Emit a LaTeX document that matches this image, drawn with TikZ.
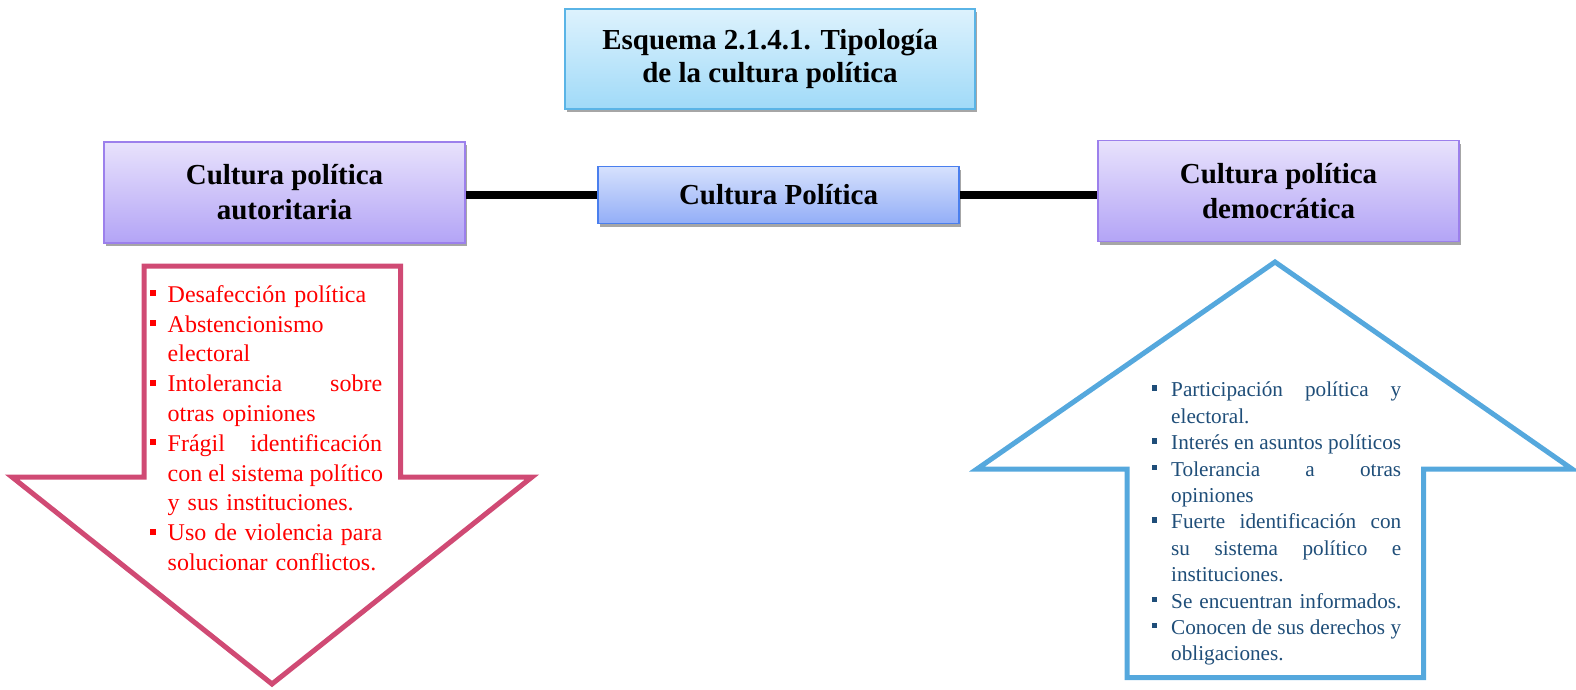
\documentclass[tikz,border=0pt]{standalone}
\usepackage{fontspec}
\setmainfont{Liberation Serif}
\usetikzlibrary{shadows}
\definecolor{titletop}{HTML}{DDF2FD}
\definecolor{titlebot}{HTML}{A0DAF8}
\definecolor{titleborder}{HTML}{5AB4E6}
\definecolor{purptop}{HTML}{E8E2FC}
\definecolor{purpbot}{HTML}{B3A4F6}
\definecolor{purpborder}{HTML}{9C80EC}
\definecolor{ctop}{HTML}{D6E1FD}
\definecolor{cbot}{HTML}{93AEF7}
\definecolor{cborder}{HTML}{4A7FEE}
\definecolor{downcol}{HTML}{D04A74}
\definecolor{upcol}{HTML}{55A8DD}
\definecolor{textblue}{HTML}{1F4E79}
\newcommand\bulL{\makebox[17.5pt][l]{\raisebox{6pt}{\rule{6pt}{6pt}}}}
\newcommand\indL{\hspace*{17.5pt}}
\newcommand\jL[1]{\hbox to 214.5pt{\spaceskip=0.25em plus 1fil\relax #1}}
\newcommand\bulR{\makebox[19.3pt][l]{\raisebox{6pt}{\rule{5.5pt}{5.5pt}}}}
\newcommand\indR{\hspace*{19.3pt}}
\newcommand\jR[1]{\hbox to 230pt{\spaceskip=0.25em plus 1fil minus 0.05em\relax #1}}
\tikzset{
  boxbase/.style={draw, line width=1.5pt, inner sep=0pt, align=center,
    drop shadow={shadow xshift=2pt, shadow yshift=-3pt, fill=black, opacity=0.35}},
  titlebox/.style={boxbase, draw=titleborder, top color=titletop, bottom color=titlebot,
    minimum width=410pt, minimum height=100pt, font=\fontsize{29}{33}\selectfont\bfseries},
  purpbox/.style={boxbase, draw=purpborder, top color=purptop, bottom color=purpbot,
    minimum width=361pt, minimum height=101pt, font=\fontsize{29}{35}\selectfont\bfseries},
  centerbox/.style={boxbase, draw=cborder, top color=ctop, bottom color=cbot,
    minimum width=361pt, minimum height=57pt, font=\fontsize{29}{33}\selectfont\bfseries},
  link/.style={line width=8pt, black},
  arrowshape/.style={line width=5pt, fill=white, line join=miter},
  listL/.style={anchor=north west, inner sep=0pt, text width=300pt, align=left,
    font=\fontsize{24}{29.8}\selectfont, text=red},
  listR/.style={anchor=north west, inner sep=0pt, text width=300pt, align=left,
    font=\fontsize{21.2}{26.4}\selectfont, text=textblue}
}
\begin{document}
\begin{tikzpicture}[x=1pt,y=-1pt]
\useasboundingbox (0,0) rectangle (1576,690);
% down arrow
\draw[arrowshape, draw=downcol] (144,266) -- (400.5,266) -- (400.5,477) -- (532,477) -- (272,684) -- (12,477) -- (144,477) -- cycle;
% up arrow
\draw[arrowshape, draw=upcol] (1275,262) -- (1572,469) -- (1423.5,469) -- (1423.5,677.5) -- (1127,677.5) -- (1127,469) -- (977,469) -- cycle;
% boxes
\node[titlebox] (title) at (770,59) {Esquema 2.1.4.1. Tipología\\de la cultura política};
\node[centerbox] (cp) at (778.5,195) {Cultura Política};
\node[purpbox] (auth) at (284.5,192.5) {Cultura política\\autoritaria};
\node[purpbox] (demo) at (1278.5,191) {Cultura política\\democrática};
% connectors
\draw[link] (cp.west) -- (cp.west -| auth.east);
\draw[link] (cp.east) -- (cp.east -| demo.west);
% lists
\node[listL] (lista) at (150,281.14) {\strut\bulL Desafección política\\
\bulL Abstencionismo\\
\indL electoral\\
\bulL\jL{Intolerancia sobre}\\
\indL otras opiniones\\
\bulL\jL{Frágil identificación}\\
\indL\jL{con el sistema político}\\
\indL y sus instituciones.\\
\bulL\jL{Uso de violencia para}\\
\indL solucionar conflictos.};
\node[listR] (listb) at (1151.7,378.2) {\strut\bulR\jR{Participación política y}\\
\indR electoral.\\
\bulR\jR{Interés en asuntos políticos}\\
\bulR\jR{Tolerancia a otras}\\
\indR opiniones\\
\bulR\jR{Fuerte identificación con}\\
\indR\jR{su sistema político e}\\
\indR instituciones.\\
\bulR Se encuentran informados.\\
\bulR\jR{Conocen de sus derechos y}\\
\indR obligaciones.};
\end{tikzpicture}
\end{document}
